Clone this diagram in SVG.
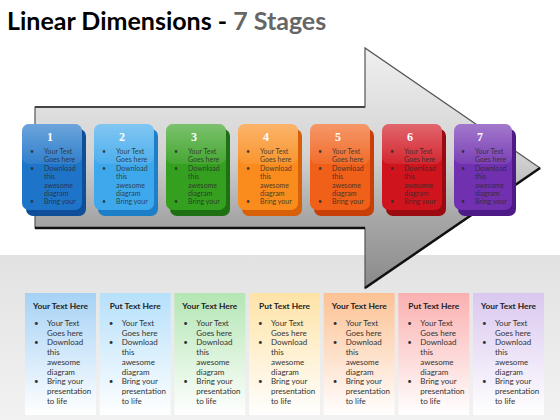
<svg xmlns="http://www.w3.org/2000/svg" width="560" height="420" viewBox="0 0 560 420">
<defs>
<linearGradient id="bgLow" x1="0" y1="0" x2="0" y2="1"><stop offset="0" stop-color="#e2e2e2"/><stop offset="1" stop-color="#f2f2f2"/></linearGradient>
<linearGradient id="arrowFill" gradientUnits="userSpaceOnUse" x1="0" y1="48" x2="0" y2="288"><stop offset="0" stop-color="#f0f0f0"/><stop offset="0.45" stop-color="#d2d2d2"/><stop offset="0.7" stop-color="#a8a8a8"/><stop offset="1" stop-color="#8a8a8a"/></linearGradient>
<linearGradient id="gloss" x1="0" y1="0" x2="0" y2="1"><stop offset="0" stop-color="#fff" stop-opacity="0.35"/><stop offset="1" stop-color="#fff" stop-opacity="0.08"/></linearGradient>
<linearGradient id="p1" x1="0" y1="0" x2="0" y2="1"><stop offset="0" stop-color="#a6d2f6"/><stop offset="1" stop-color="#ffffff"/></linearGradient>
<linearGradient id="p2" x1="0" y1="0" x2="0" y2="1"><stop offset="0" stop-color="#b6e0fa"/><stop offset="1" stop-color="#ffffff"/></linearGradient>
<linearGradient id="p3" x1="0" y1="0" x2="0" y2="1"><stop offset="0" stop-color="#b4e6b4"/><stop offset="1" stop-color="#ffffff"/></linearGradient>
<linearGradient id="p4" x1="0" y1="0" x2="0" y2="1"><stop offset="0" stop-color="#fee3a6"/><stop offset="1" stop-color="#ffffff"/></linearGradient>
<linearGradient id="p5" x1="0" y1="0" x2="0" y2="1"><stop offset="0" stop-color="#fcc294"/><stop offset="1" stop-color="#ffffff"/></linearGradient>
<linearGradient id="p6" x1="0" y1="0" x2="0" y2="1"><stop offset="0" stop-color="#fbb0b0"/><stop offset="1" stop-color="#ffffff"/></linearGradient>
<linearGradient id="p7" x1="0" y1="0" x2="0" y2="1"><stop offset="0" stop-color="#dac8f0"/><stop offset="1" stop-color="#ffffff"/></linearGradient>
</defs>
<style>
.title{font-family:Lato,"Open Sans",sans-serif;font-weight:bold;font-size:25px}
.num{font-family:"Liberation Serif",serif;font-weight:bold;font-size:12px;fill:#fff;text-anchor:middle}
.ct{font-family:Lato,"Open Sans",sans-serif;font-size:7px;fill:#2a2a2a;fill-opacity:0.85}
.ph{font-family:Lato,"Open Sans",sans-serif;font-weight:bold;font-size:8.4px;fill:#222;text-anchor:middle}
.pt{font-family:Lato,"Open Sans",sans-serif;font-size:8px;fill:#333}
.gloss{fill:url(#gloss)}
</style>
<rect width="560" height="420" fill="#ffffff"/>
<rect x="0" y="255" width="560" height="165" fill="url(#bgLow)"/>
<text class="title" x="7" y="30"><tspan fill="#000">Linear Dimensions - </tspan><tspan fill="#666">7 Stages</tspan></text>

<g id="arrow">
<polygon points="35,107 365,107 365,48 540,168 365,288 365,228 35,228" fill="url(#arrowFill)" stroke="#555" stroke-width="1.2"/>
<line x1="35" y1="107" x2="365" y2="107" stroke="#444" stroke-width="2"/>
<polyline points="35,228 365,228" fill="none" stroke="#111" stroke-width="2.5"/>
<polyline points="365,288 540,168" fill="none" stroke="#111" stroke-width="2.5"/>
</g>

<g id="card1">
<rect x="26" y="129" width="60" height="87" rx="7" fill="#0f4f9a"/>
<rect x="22" y="124" width="60" height="86" rx="7" fill="#1e74c8"/>
<rect x="22" y="124" width="60" height="40" rx="7" class="gloss"/>
<text class="num" x="50" y="141">1</text>
<text class="ct"><tspan x="30" y="154">•</tspan><tspan x="44" y="154">Your Text</tspan><tspan x="44" y="162.4">Goes here</tspan><tspan x="30" y="170.8">•</tspan><tspan x="44" y="170.8">Download</tspan><tspan x="44" y="179.2">this</tspan><tspan x="44" y="187.6">awesome</tspan><tspan x="44" y="196">diagram</tspan><tspan x="30" y="204.4">•</tspan><tspan x="44" y="204.4">Bring your</tspan></text>
</g>
<g id="card2">
<rect x="98" y="129" width="60" height="87" rx="7" fill="#1d7fc8"/>
<rect x="94" y="124" width="60" height="86" rx="7" fill="#3ea8ec"/>
<rect x="94" y="124" width="60" height="40" rx="7" class="gloss"/>
<text class="num" x="122" y="141">2</text>
<text class="ct"><tspan x="102" y="154">•</tspan><tspan x="116" y="154">Your Text</tspan><tspan x="116" y="162.4">Goes here</tspan><tspan x="102" y="170.8">•</tspan><tspan x="116" y="170.8">Download</tspan><tspan x="116" y="179.2">this</tspan><tspan x="116" y="187.6">awesome</tspan><tspan x="116" y="196">diagram</tspan><tspan x="102" y="204.4">•</tspan><tspan x="116" y="204.4">Bring your</tspan></text>
</g>
<g id="card3">
<rect x="170" y="129" width="60" height="87" rx="7" fill="#1f7012"/>
<rect x="166" y="124" width="60" height="86" rx="7" fill="#35a020"/>
<rect x="166" y="124" width="60" height="40" rx="7" class="gloss"/>
<text class="num" x="194" y="141">3</text>
<text class="ct"><tspan x="174" y="154">•</tspan><tspan x="188" y="154">Your Text</tspan><tspan x="188" y="162.4">Goes here</tspan><tspan x="174" y="170.8">•</tspan><tspan x="188" y="170.8">Download</tspan><tspan x="188" y="179.2">this</tspan><tspan x="188" y="187.6">awesome</tspan><tspan x="188" y="196">diagram</tspan><tspan x="174" y="204.4">•</tspan><tspan x="188" y="204.4">Bring your</tspan></text>
</g>
<g id="card4">
<rect x="242" y="129" width="60" height="87" rx="7" fill="#d86008"/>
<rect x="238" y="124" width="60" height="86" rx="7" fill="#f98c1c"/>
<rect x="238" y="124" width="60" height="40" rx="7" class="gloss"/>
<text class="num" x="266" y="141">4</text>
<text class="ct"><tspan x="246" y="154">•</tspan><tspan x="260" y="154">Your Text</tspan><tspan x="260" y="162.4">Goes here</tspan><tspan x="246" y="170.8">•</tspan><tspan x="260" y="170.8">Download</tspan><tspan x="260" y="179.2">this</tspan><tspan x="260" y="187.6">awesome</tspan><tspan x="260" y="196">diagram</tspan><tspan x="246" y="204.4">•</tspan><tspan x="260" y="204.4">Bring your</tspan></text>
</g>
<g id="card5">
<rect x="314" y="129" width="60" height="87" rx="7" fill="#c84008"/>
<rect x="310" y="124" width="60" height="86" rx="7" fill="#f06018"/>
<rect x="310" y="124" width="60" height="40" rx="7" class="gloss"/>
<text class="num" x="338" y="141">5</text>
<text class="ct"><tspan x="318" y="154">•</tspan><tspan x="332" y="154">Your Text</tspan><tspan x="332" y="162.4">Goes here</tspan><tspan x="318" y="170.8">•</tspan><tspan x="332" y="170.8">Download</tspan><tspan x="332" y="179.2">this</tspan><tspan x="332" y="187.6">awesome</tspan><tspan x="332" y="196">diagram</tspan><tspan x="318" y="204.4">•</tspan><tspan x="332" y="204.4">Bring your</tspan></text>
</g>
<g id="card6">
<rect x="386" y="129" width="60" height="87" rx="7" fill="#9a0a10"/>
<rect x="382" y="124" width="60" height="86" rx="7" fill="#d0141e"/>
<rect x="382" y="124" width="60" height="40" rx="7" class="gloss"/>
<text class="num" x="410" y="141">6</text>
<text class="ct"><tspan x="390" y="154">•</tspan><tspan x="404" y="154">Your Text</tspan><tspan x="404" y="162.4">Goes here</tspan><tspan x="390" y="170.8">•</tspan><tspan x="404" y="170.8">Download</tspan><tspan x="404" y="179.2">this</tspan><tspan x="404" y="187.6">awesome</tspan><tspan x="404" y="196">diagram</tspan><tspan x="390" y="204.4">•</tspan><tspan x="404" y="204.4">Bring your</tspan></text>
</g>
<g id="card7">
<rect x="458" y="129" width="58" height="87" rx="7" fill="#4e1a88"/>
<rect x="454" y="124" width="58" height="86" rx="7" fill="#7030b0"/>
<rect x="454" y="124" width="58" height="40" rx="7" class="gloss"/>
<text class="num" x="480" y="141">7</text>
<text class="ct"><tspan x="461" y="154">•</tspan><tspan x="475" y="154">Your Text</tspan><tspan x="475" y="162.4">Goes here</tspan><tspan x="461" y="170.8">•</tspan><tspan x="475" y="170.8">Download</tspan><tspan x="475" y="179.2">this</tspan><tspan x="475" y="187.6">awesome</tspan><tspan x="475" y="196">diagram</tspan><tspan x="461" y="204.4">•</tspan><tspan x="475" y="204.4">Bring your</tspan></text>
</g>

<g id="panel1">
<rect x="25" y="293" width="71" height="122" fill="url(#p1)"/>
<text class="ph" x="60.5" y="309">Your Text Here</text>
<text class="pt"><tspan x="34" y="326">•</tspan><tspan x="47" y="326">Your Text</tspan><tspan x="47" y="335.7">Goes here</tspan><tspan x="34" y="345.4">•</tspan><tspan x="47" y="345.4">Download</tspan><tspan x="47" y="355.1">this</tspan><tspan x="47" y="364.8">awesome</tspan><tspan x="47" y="374.5">diagram</tspan><tspan x="34" y="384.2">•</tspan><tspan x="47" y="384.2">Bring your</tspan><tspan x="47" y="393.9">presentation</tspan><tspan x="47" y="403.6">to life</tspan></text>
</g>
<g id="panel2">
<rect x="99.7" y="293" width="71" height="122" fill="url(#p2)"/>
<text class="ph" x="135.2" y="309">Put Text Here</text>
<text class="pt"><tspan x="108.7" y="326">•</tspan><tspan x="121.7" y="326">Your Text</tspan><tspan x="121.7" y="335.7">Goes here</tspan><tspan x="108.7" y="345.4">•</tspan><tspan x="121.7" y="345.4">Download</tspan><tspan x="121.7" y="355.1">this</tspan><tspan x="121.7" y="364.8">awesome</tspan><tspan x="121.7" y="374.5">diagram</tspan><tspan x="108.7" y="384.2">•</tspan><tspan x="121.7" y="384.2">Bring your</tspan><tspan x="121.7" y="393.9">presentation</tspan><tspan x="121.7" y="403.6">to life</tspan></text>
</g>
<g id="panel3">
<rect x="174.3" y="293" width="71" height="122" fill="url(#p3)"/>
<text class="ph" x="209.8" y="309">Your Text Here</text>
<text class="pt"><tspan x="183.3" y="326">•</tspan><tspan x="196.3" y="326">Your Text</tspan><tspan x="196.3" y="335.7">Goes here</tspan><tspan x="183.3" y="345.4">•</tspan><tspan x="196.3" y="345.4">Download</tspan><tspan x="196.3" y="355.1">this</tspan><tspan x="196.3" y="364.8">awesome</tspan><tspan x="196.3" y="374.5">diagram</tspan><tspan x="183.3" y="384.2">•</tspan><tspan x="196.3" y="384.2">Bring your</tspan><tspan x="196.3" y="393.9">presentation</tspan><tspan x="196.3" y="403.6">to life</tspan></text>
</g>
<g id="panel4">
<rect x="249" y="293" width="71" height="122" fill="url(#p4)"/>
<text class="ph" x="284.5" y="309">Put Text Here</text>
<text class="pt"><tspan x="258" y="326">•</tspan><tspan x="271" y="326">Your Text</tspan><tspan x="271" y="335.7">Goes here</tspan><tspan x="258" y="345.4">•</tspan><tspan x="271" y="345.4">Download</tspan><tspan x="271" y="355.1">this</tspan><tspan x="271" y="364.8">awesome</tspan><tspan x="271" y="374.5">diagram</tspan><tspan x="258" y="384.2">•</tspan><tspan x="271" y="384.2">Bring your</tspan><tspan x="271" y="393.9">presentation</tspan><tspan x="271" y="403.6">to life</tspan></text>
</g>
<g id="panel5">
<rect x="323.7" y="293" width="71" height="122" fill="url(#p5)"/>
<text class="ph" x="359.2" y="309">Your Text Here</text>
<text class="pt"><tspan x="332.7" y="326">•</tspan><tspan x="345.7" y="326">Your Text</tspan><tspan x="345.7" y="335.7">Goes here</tspan><tspan x="332.7" y="345.4">•</tspan><tspan x="345.7" y="345.4">Download</tspan><tspan x="345.7" y="355.1">this</tspan><tspan x="345.7" y="364.8">awesome</tspan><tspan x="345.7" y="374.5">diagram</tspan><tspan x="332.7" y="384.2">•</tspan><tspan x="345.7" y="384.2">Bring your</tspan><tspan x="345.7" y="393.9">presentation</tspan><tspan x="345.7" y="403.6">to life</tspan></text>
</g>
<g id="panel6">
<rect x="398.3" y="293" width="71" height="122" fill="url(#p6)"/>
<text class="ph" x="433.8" y="309">Put Text Here</text>
<text class="pt"><tspan x="407.3" y="326">•</tspan><tspan x="420.3" y="326">Your Text</tspan><tspan x="420.3" y="335.7">Goes here</tspan><tspan x="407.3" y="345.4">•</tspan><tspan x="420.3" y="345.4">Download</tspan><tspan x="420.3" y="355.1">this</tspan><tspan x="420.3" y="364.8">awesome</tspan><tspan x="420.3" y="374.5">diagram</tspan><tspan x="407.3" y="384.2">•</tspan><tspan x="420.3" y="384.2">Bring your</tspan><tspan x="420.3" y="393.9">presentation</tspan><tspan x="420.3" y="403.6">to life</tspan></text>
</g>
<g id="panel7">
<rect x="473" y="293" width="71" height="122" fill="url(#p7)"/>
<text class="ph" x="508.5" y="309">Your Text Here</text>
<text class="pt"><tspan x="482" y="326">•</tspan><tspan x="495" y="326">Your Text</tspan><tspan x="495" y="335.7">Goes here</tspan><tspan x="482" y="345.4">•</tspan><tspan x="495" y="345.4">Download</tspan><tspan x="495" y="355.1">this</tspan><tspan x="495" y="364.8">awesome</tspan><tspan x="495" y="374.5">diagram</tspan><tspan x="482" y="384.2">•</tspan><tspan x="495" y="384.2">Bring your</tspan><tspan x="495" y="393.9">presentation</tspan><tspan x="495" y="403.6">to life</tspan></text>
</g>
</svg>
